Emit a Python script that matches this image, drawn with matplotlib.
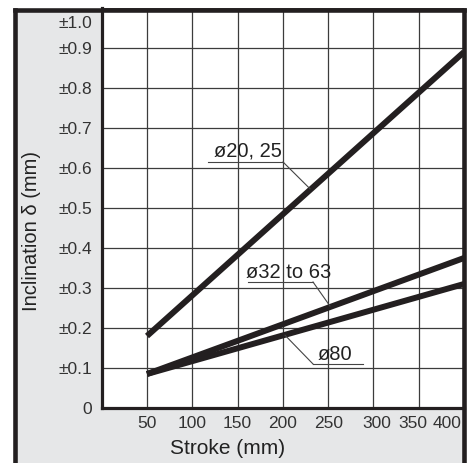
import matplotlib
matplotlib.use("Agg")
import matplotlib.pyplot as plt
from matplotlib.lines import Line2D
from matplotlib.patches import Rectangle
import matplotlib.transforms as mtransforms

# ---- data ----
strokes = [50, 400]
incl_20_25 = [0.18, 0.89]
incl_32_63 = [0.085, 0.375]
incl_80 = [0.085, 0.31]

x_ticks = [50, 100, 150, 200, 250, 300, 350, 400]
x_tick_labels = ["50", "100", "150", "200", "250", "300", "350", "400"]
y_ticks = [0, 0.1, 0.2, 0.3, 0.4, 0.5, 0.6, 0.7, 0.8, 0.9, 1.0]
y_tick_labels = ["0", "±0.1", "±0.2", "±0.3", "±0.4", "±0.5", "±0.6",
                 "±0.7", "±0.8", "±0.9", "±1.0"]

INK = "#231f20"
GRID = "#3c3c3c"
PANEL = "#e6e7e8"

plt.rcParams['font.family'] = ['Liberation Sans', 'DejaVu Sans']

W, H = 470, 463
fig = plt.figure(figsize=(W / 100, H / 100), dpi=100)
fig.patch.set_facecolor("white")

# gray panel
fig.add_artist(Rectangle((15 / W, -0.05), (463.5 - 15) / W, 1.05 - 9.5 / H,
                         transform=fig.transFigure, facecolor=PANEL,
                         edgecolor="none", zorder=-5))

ax = fig.add_axes([101.7 / W, 55 / H, (464 - 101.7) / W, 400 / H])
ax.set_facecolor("white")
ax.set_xlim(0, 400)
ax.set_ylim(0, 1.0)

ax.plot(strokes, incl_20_25, color=INK, lw=4.3, solid_capstyle="butt", zorder=4)
ax.plot(strokes, incl_32_63, color=INK, lw=4.3, solid_capstyle="butt", zorder=4)
ax.plot(strokes, incl_80, color=INK, lw=4.3, solid_capstyle="butt", zorder=4)

ax.set_xticks(x_ticks)
ax.set_xticklabels(x_tick_labels, family=['Liberation Sans Narrow', 'Liberation Sans', 'DejaVu Sans'],
                   fontsize=12.5, color="#333333")
ax.set_yticks(y_ticks)
ax.set_yticklabels(y_tick_labels, fontsize=12.5, color="#333333")
ax.tick_params(length=0, pad=7)
ax.tick_params(axis='x', pad=6)
ax.grid(True, color=GRID, lw=0.9)
ax.set_axisbelow(True)

for s in ["top", "right"]:
    ax.spines[s].set_visible(False)
for s in ["left", "bottom"]:
    ax.spines[s].set_linewidth(2.3)
    ax.spines[s].set_color(INK)

# squeeze edge labels like the original
offs = {6: -6, 7: -17, 5: 3}
for i, lab in enumerate(ax.get_xticklabels()):
    if i in offs:
        lab.set_transform(lab.get_transform() +
                          mtransforms.ScaledTranslation(offs[i] / 100, 0, fig.dpi_scale_trans))
ylabs = ax.get_yticklabels()
ylabs[-1].set_transform(ylabs[-1].get_transform() +
                        mtransforms.ScaledTranslation(0, -14 / 100, fig.dpi_scale_trans))

# annotations with underline + leader
def note(text, tx, ty, ux0, ux1, uy, lx, ly, leader_from_left=False):
    ax.text(tx, ty, text, ha="center", va="baseline", fontsize=14.5, color="#222222", zorder=6)
    ax.plot([ux0, ux1], [uy, uy], color="#444444", lw=0.8, zorder=5)
    sx = ux0 if leader_from_left else ux1
    ax.plot([sx, lx], [uy, ly], color="#444444", lw=0.8, zorder=5)

note("ø20, 25", 161.5, 0.628, 117.4, 200.2, 0.615, 230, 0.548)
note("ø32 to 63", 206, 0.325, 161.6, 233.3, 0.315, 252, 0.255)
note("ø80", 257.6, 0.12, 233.3, 288.5, 0.11, 202.4, 0.182, leader_from_left=True)

fig.text(228 / W, 1 - 448 / H, "Stroke (mm)", ha="center", va="center",
         fontsize=15, color="#222222")
fig.text(32 / W, 1 - 231 / H, "Inclination δ (mm)", ha="center", va="center",
         rotation=90, fontsize=14.5, color="#222222")

# outer frame (left, top, right)
fw = 3.3
fig.add_artist(Line2D([15 / W, 15 / W], [-0.05, 1 - 9.5 / H], transform=fig.transFigure,
                      color=INK, lw=fw, zorder=10, solid_capstyle="projecting"))
fig.add_artist(Line2D([15 / W, 463.5 / W], [1 - 9.5 / H, 1 - 9.5 / H], transform=fig.transFigure,
                      color=INK, lw=fw, zorder=10, solid_capstyle="projecting"))
fig.add_artist(Line2D([463.5 / W, 463.5 / W], [-0.05, 1 - 9.5 / H], transform=fig.transFigure,
                      color=INK, lw=fw, zorder=10, solid_capstyle="projecting"))

fig.savefig("out.png", dpi=100)
